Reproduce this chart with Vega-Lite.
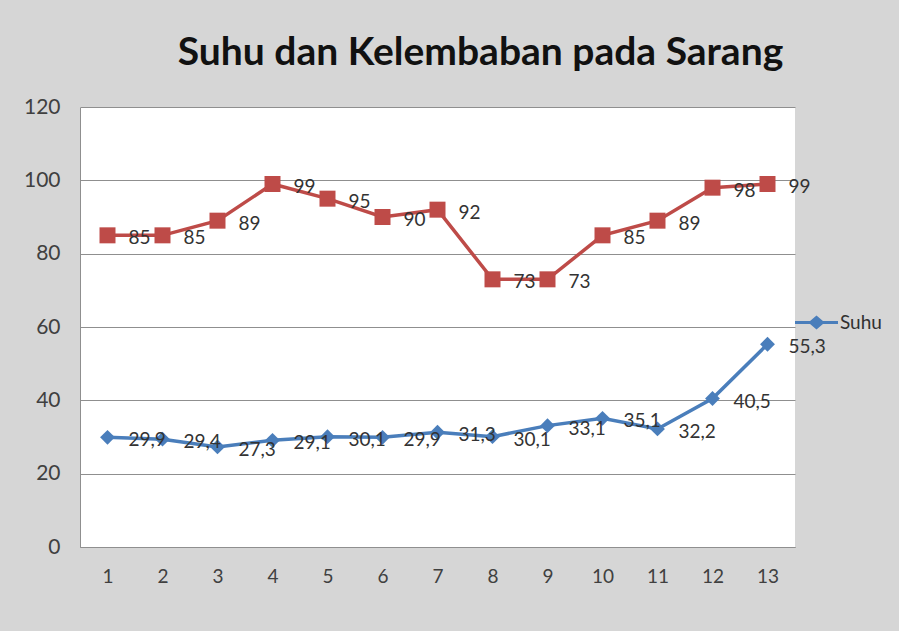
{
  "$schema": "https://vega.github.io/schema/vega-lite/v6.json",
  "width": 715,
  "height": 440,
  "autosize": {"type": "none"},
  "padding": {"left": 80, "top": 107, "right": 104, "bottom": 84},
  "background": "#d6d6d6",
  "title": {
    "text": "Suhu dan Kelembaban pada Sarang",
    "font": "Lato",
    "fontSize": 39,
    "fontWeight": "bold",
    "color": "#111111",
    "anchor": "middle",
    "dx": 43,
    "offset": 23
  },
  "config": {
    "locale": {"number": {"decimal": ",", "thousands": ".", "grouping": [3], "currency": ["Rp", ""]}},
    "view": {"fill": "white", "stroke": null},
    "axis": {
      "labelFont": "Lato",
      "labelFontSize": 19,
      "labelColor": "#404040",
      "gridColor": "#8f8f8f",
      "gridWidth": 1,
      "domainColor": "#8f8f8f",
      "domainWidth": 1,
      "ticks": false,
      "title": null
    }
  },
  "data": {
    "values": [
      {"no": 1, "seri": "Kelembaban", "nilai": 85},
      {"no": 2, "seri": "Kelembaban", "nilai": 85},
      {"no": 3, "seri": "Kelembaban", "nilai": 89},
      {"no": 4, "seri": "Kelembaban", "nilai": 99},
      {"no": 5, "seri": "Kelembaban", "nilai": 95},
      {"no": 6, "seri": "Kelembaban", "nilai": 90},
      {"no": 7, "seri": "Kelembaban", "nilai": 92},
      {"no": 8, "seri": "Kelembaban", "nilai": 73},
      {"no": 9, "seri": "Kelembaban", "nilai": 73},
      {"no": 10, "seri": "Kelembaban", "nilai": 85},
      {"no": 11, "seri": "Kelembaban", "nilai": 89},
      {"no": 12, "seri": "Kelembaban", "nilai": 98},
      {"no": 13, "seri": "Kelembaban", "nilai": 99},
      {"no": 1, "seri": "Suhu", "nilai": 29.9},
      {"no": 2, "seri": "Suhu", "nilai": 29.4},
      {"no": 3, "seri": "Suhu", "nilai": 27.3},
      {"no": 4, "seri": "Suhu", "nilai": 29.1},
      {"no": 5, "seri": "Suhu", "nilai": 30.1},
      {"no": 6, "seri": "Suhu", "nilai": 29.9},
      {"no": 7, "seri": "Suhu", "nilai": 31.3},
      {"no": 8, "seri": "Suhu", "nilai": 30.1},
      {"no": 9, "seri": "Suhu", "nilai": 33.1},
      {"no": 10, "seri": "Suhu", "nilai": 35.1},
      {"no": 11, "seri": "Suhu", "nilai": 32.2},
      {"no": 12, "seri": "Suhu", "nilai": 40.5},
      {"no": 13, "seri": "Suhu", "nilai": 55.3}
    ]
  },
  "encoding": {
    "x": {
      "field": "no",
      "type": "ordinal",
      "scale": {"type": "point", "padding": 0.5},
      "axis": {"labelAngle": 0, "labelPadding": 20, "grid": false, "domain": true}
    },
    "y": {
      "field": "nilai",
      "type": "quantitative",
      "scale": {"domain": [0, 120]},
      "axis": {"values": [0, 20, 40, 60, 80, 100, 120], "labelPadding": 20, "labelFontSize": 21, "domain": true, "grid": true}
    }
  },
  "layer": [
    {
      "mark": {"type": "line", "strokeWidth": 3.5},
      "encoding": {
        "color": {
          "field": "seri",
          "type": "nominal",
          "scale": {"domain": ["Kelembaban", "Suhu"], "range": ["#be4b48", "#4a7ebb"]},
          "legend": {
            "values": ["Suhu"],
            "orient": "none",
            "legendX": 715,
            "legendY": 194,
            "title": null,
            "padding": 0,
            "symbolType": "M-1,-0.075H-0.3L0,-0.32L0.3,-0.075H1V0.075H0.3L0,0.32L-0.3,0.075H-1Z",
            "symbolSize": 1849,
            "symbolStrokeWidth": 0,
            "symbolFillColor": "#4a7ebb",
            "symbolStrokeColor": "#4a7ebb",
            "symbolOpacity": 1,
            "labelFont": "Lato",
            "labelFontSize": 19,
            "labelColor": "#303030",
            "labelOffset": 2
          }
        }
      }
    },
    {
      "mark": {"type": "point", "filled": true, "opacity": 1},
      "encoding": {
        "color": {"field": "seri", "type": "nominal", "legend": null},
        "shape": {"condition": {"test": "datum.seri === 'Suhu'", "value": "diamond"}, "value": "square"},
        "size": {"condition": {"test": "datum.seri === 'Suhu'", "value": 220}, "value": 256}
      }
    },
    {
      "mark": {"type": "text", "align": "left", "baseline": "middle", "dx": 21, "dy": 3, "font": "Lato", "fontSize": 19, "color": "#333333"},
      "encoding": {
        "text": {"field": "nilai", "type": "quantitative", "format": "~g"}
      }
    }
  ]
}
